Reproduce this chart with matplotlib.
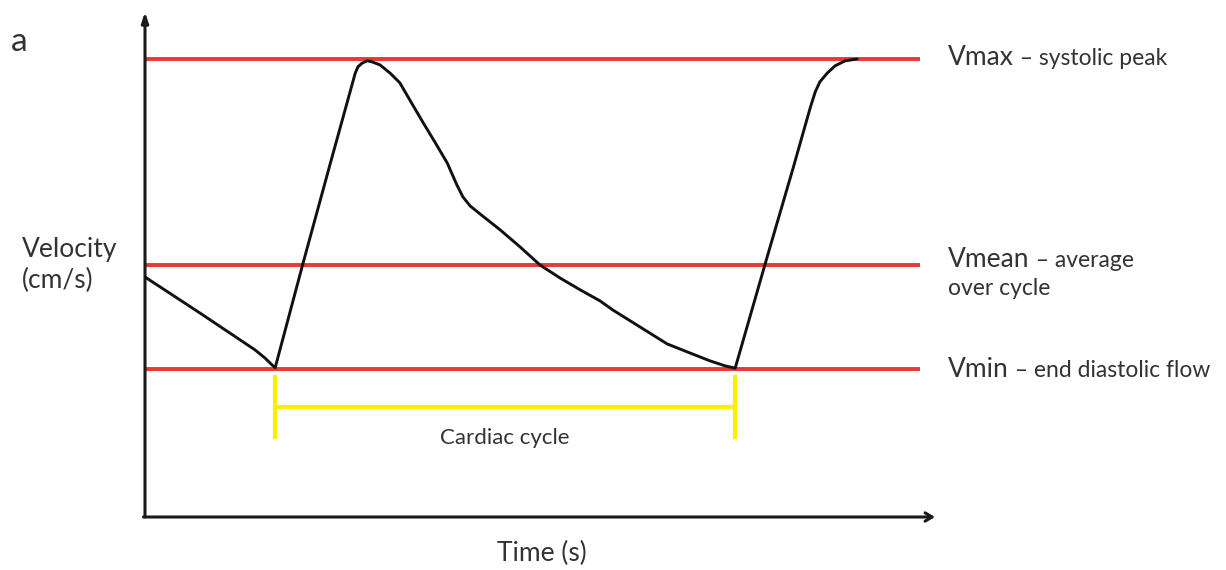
import matplotlib
matplotlib.use("Agg")
import matplotlib.pyplot as plt

# ---- data (time in s, velocity in cm/s) ----
time_s = [0.000, 0.120, 0.239, 0.261, 0.274, 0.283, 0.343, 0.402, 0.457, 0.463,
          0.472, 0.483, 0.493, 0.511, 0.533, 0.554, 0.576, 0.604, 0.630, 0.657,
          0.678, 0.691, 0.707, 0.728, 0.772, 0.815, 0.859, 0.902, 0.946, 0.989,
          1.017, 1.076, 1.135, 1.185, 1.228, 1.261, 1.283, 1.352, 1.409, 1.446,
          1.457, 1.467, 1.483, 1.500, 1.522, 1.548]
velocity = [52.4, 44.5, 36.5, 34.7, 33.4, 32.6, 55.2, 76.9, 96.9, 98.3,
            99.1, 99.6, 99.4, 98.7, 96.9, 94.8, 91.0, 86.2, 81.9, 77.3,
            72.5, 69.9, 67.9, 66.2, 62.7, 59.0, 55.0, 52.2, 49.6, 47.2,
            45.2, 41.5, 37.8, 35.8, 34.1, 33.0, 32.5, 56.6, 76.2, 89.3,
            92.8, 95.0, 96.9, 98.5, 99.6, 100.0]

v_max, v_mean, v_min = 100.0, 55.0, 32.3
level_values = [v_max, v_mean, v_min]
level_main = ["Vmax", "Vmean", "Vmin"]
level_desc = [" \u2013 systolic peak", " \u2013 average", " \u2013 end diastolic flow"]
cycle_start, cycle_end = 0.283, 1.283
cycle_level = 24.0
cycle_tick_low, cycle_tick_high = 17.5, 30.6

plt.rcParams['font.family'] = ['Lato', 'DejaVu Sans']
TXT = '#333333'
RED = '#e8382f'
YEL = '#ffee00'

fig = plt.figure(figsize=(12.26, 5.7), dpi=100)
W, H = 1226, 570
ax = fig.add_axes([145 / W, (570 - 517) / H, (935 - 145) / W, (517 - 12) / H])
ax.set_xlim(0, (935 - 145) / 460)
ax.set_ylim(0, (517 - 12) / 4.58)
ax.axis('off')

# axis arrows
ax.annotate('', xy=(0, 1), xytext=(0, 0), xycoords='axes fraction',
            arrowprops=dict(arrowstyle='-|>,head_length=0.6,head_width=0.2',
                            lw=2.2, color='#1a1a1a', shrinkA=0, shrinkB=0))
ax.annotate('', xy=(1, 0), xytext=(-0.002, 0), xycoords='axes fraction',
            arrowprops=dict(arrowstyle='->,head_length=0.5,head_width=0.3',
                            lw=2.2, color='#1a1a1a', shrinkA=0, shrinkB=0))

# reference lines
line_end = (920 - 145) / 460
for v in level_values:
    ax.plot([0, line_end], [v, v], color=RED, lw=2.8, solid_capstyle='butt', zorder=2)

# velocity curve
ax.plot(time_s, velocity, color='#111111', lw=2.1, solid_joinstyle='round',
        solid_capstyle='round', zorder=3)

# cardiac cycle bracket
ax.plot([cycle_start, cycle_end], [cycle_level, cycle_level], color=YEL, lw=3, zorder=2)
for t in (cycle_start, cycle_end):
    ax.plot([t, t], [cycle_tick_low, cycle_tick_high], color=YEL, lw=3, zorder=2)
ax.text((cycle_start + cycle_end) / 2, 17.2, "Cardiac cycle", ha='center', va='center',
        fontsize=16, color=TXT)

# right-hand labels
label_x = (948 - 145) / 460
baseline_offsets = [-1.4, -0.5, -1.8]
for v, m, d, off in zip(level_values, level_main, level_desc, baseline_offsets):
    t1 = ax.text(label_x, v + off, m, fontsize=19, color=TXT, va='baseline',
                 ha='left', clip_on=False)
    ax.annotate(d, xy=(1, v + off), xycoords=(t1, 'data'), fontsize=16.5, color=TXT,
                va='baseline', ha='left', annotation_clip=False)
ax.text(label_x, v_mean - 6.6, "over cycle", fontsize=16.5, color=TXT, va='baseline',
        ha='left', clip_on=False)

# axis labels and panel letter
fig.text(22 / W, 1 - 250 / H, "Velocity", fontsize=19, color=TXT, va='center', ha='left')
fig.text(22 / W, 1 - 280 / H, "(cm/s)", fontsize=19, color=TXT, va='center', ha='left')
fig.text(542 / W, 1 - 553 / H, "Time (s)", fontsize=19, color=TXT, va='center', ha='center')
fig.text(11 / W, 1 - 42 / H, "a", fontsize=24, color=TXT, va='center', ha='left')

fig.savefig("out.png", dpi=100, facecolor='white')
